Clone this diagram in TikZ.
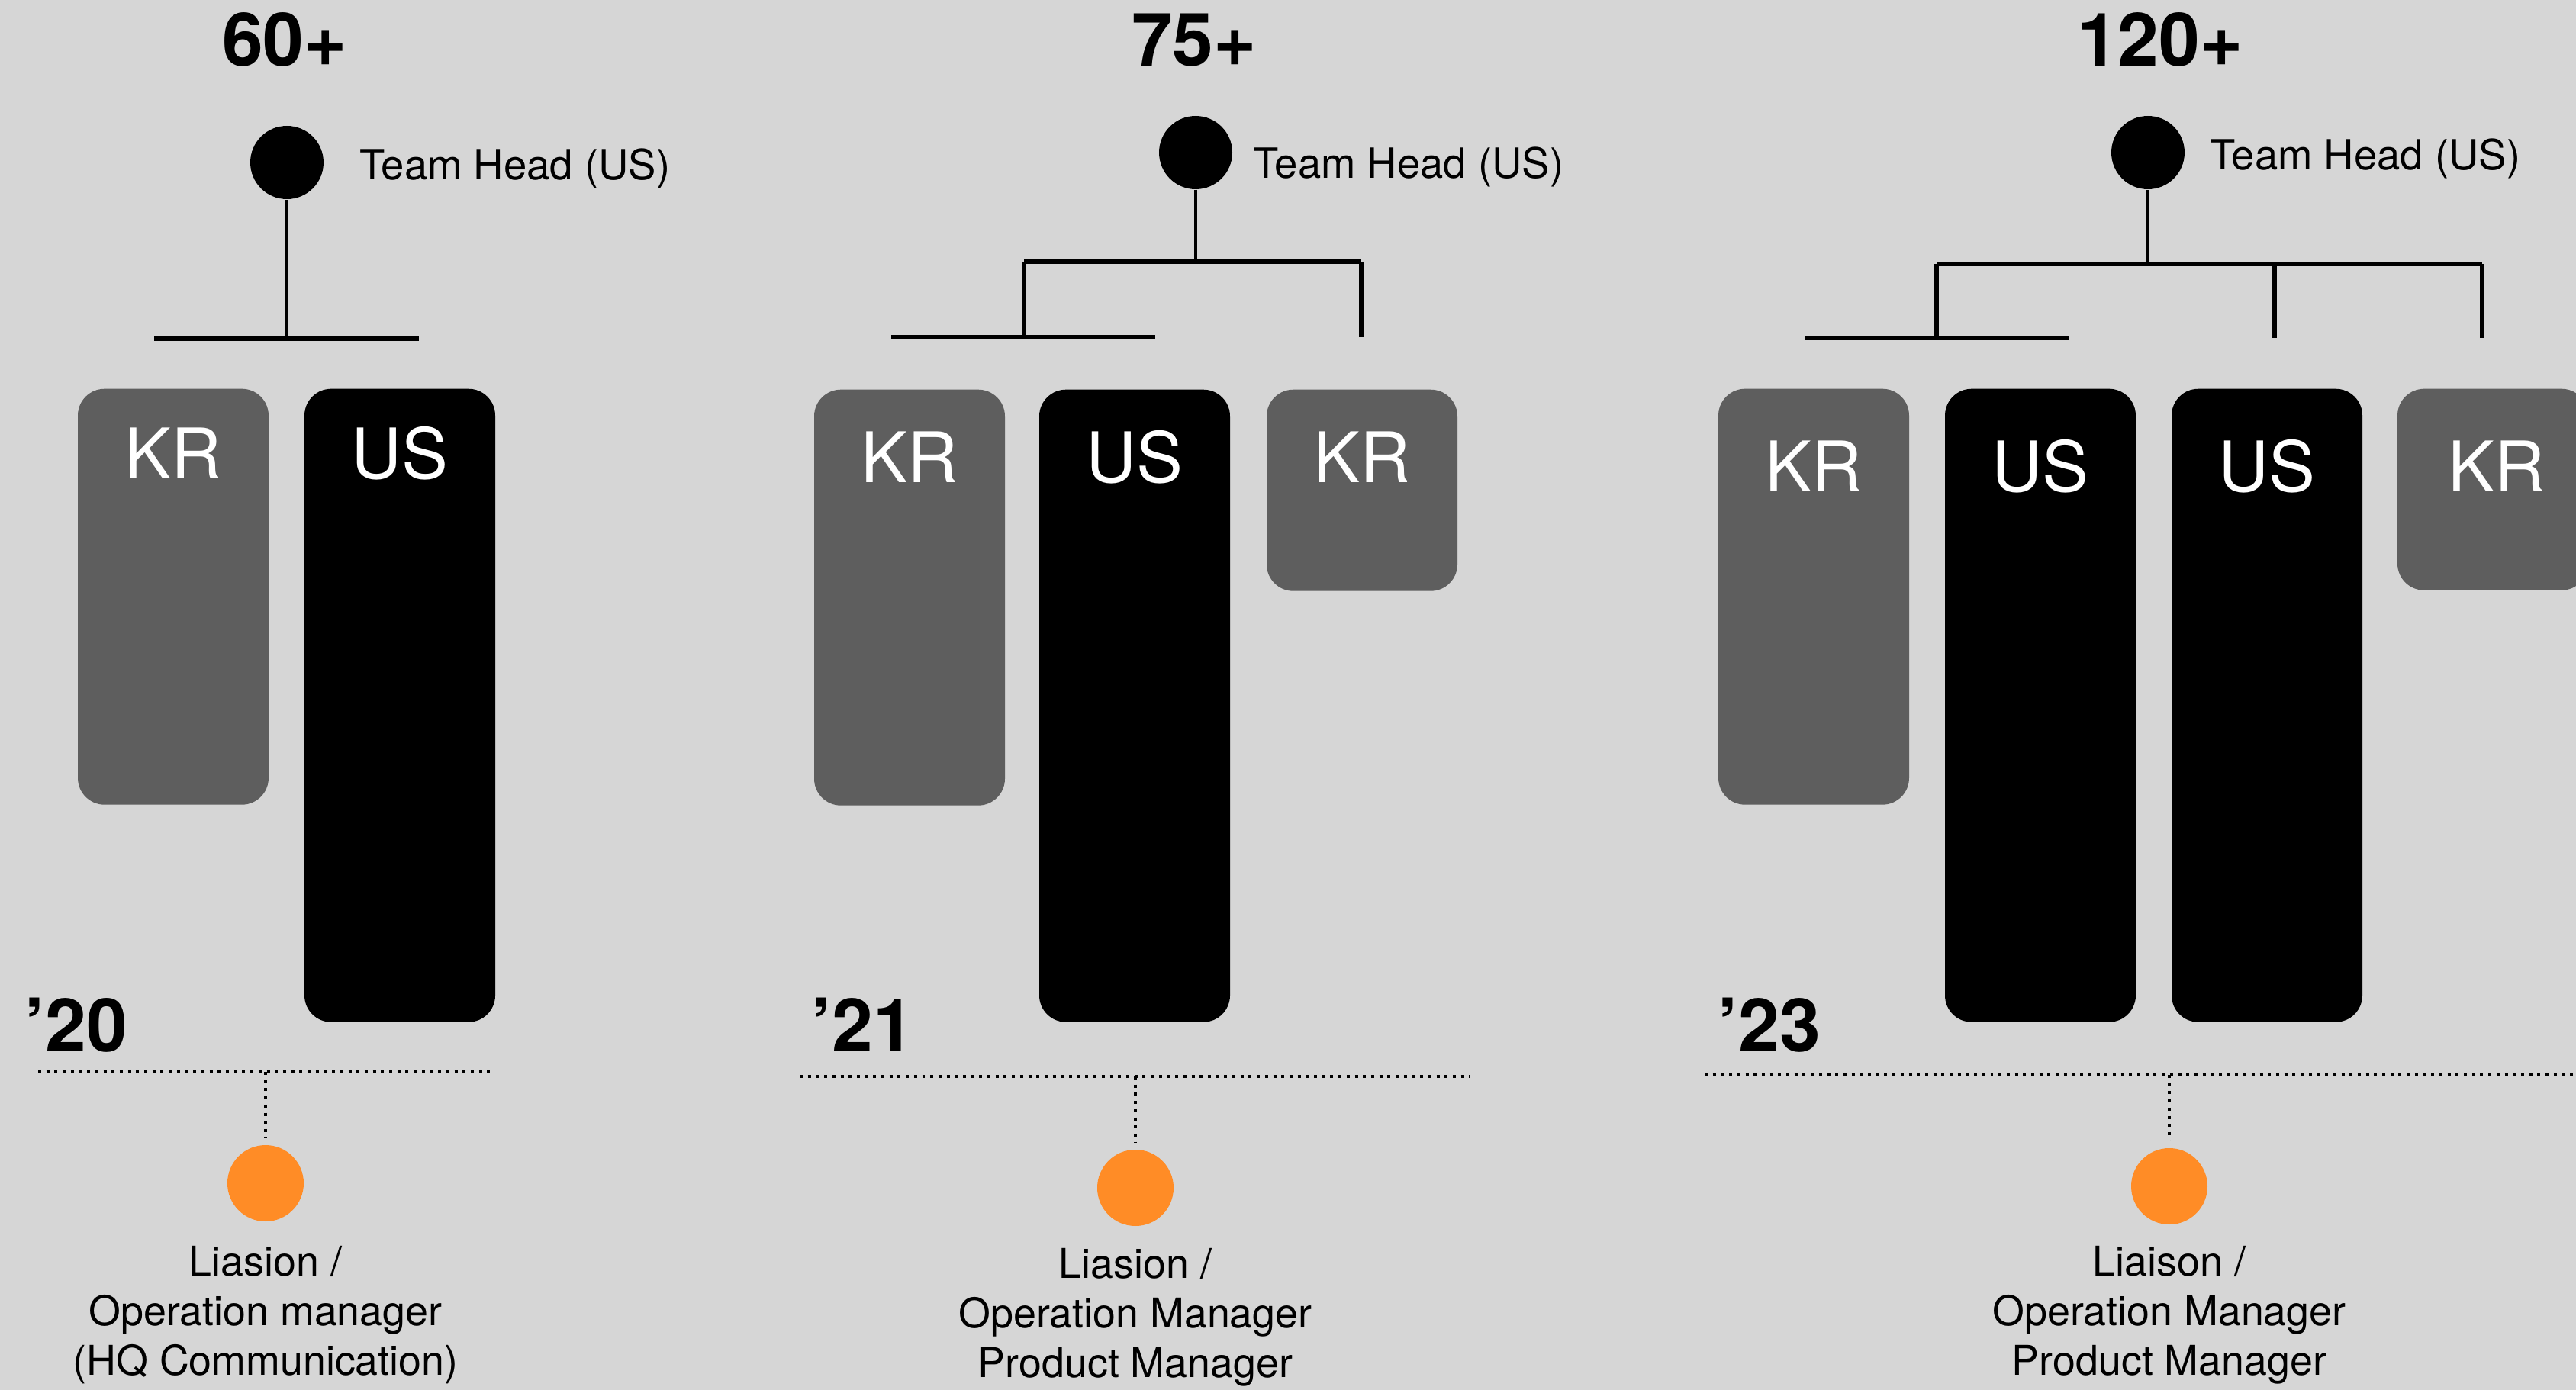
\documentclass[tikz,border=0pt]{standalone}
\usepackage{fontspec}
\setmainfont{TeX Gyre Heros}
\definecolor{bggray}{RGB}{214,214,214}
\definecolor{krgray}{RGB}{94,94,94}
\definecolor{liaisonorange}{RGB}{255,140,38}

\begin{document}
\begin{tikzpicture}
    \tikzstyle{count}=[inner sep=0pt,anchor=base,font=\fontsize{27.5}{30}\selectfont\bfseries]
    \tikzstyle{year}=[inner sep=0pt,anchor=base west,font=\fontsize{27.5}{30}\selectfont\bfseries]
    \tikzstyle{head}=[circle,fill=black,inner sep=0pt,minimum size=0.96cm]
    \tikzstyle{headtext}=[inner sep=0pt,anchor=base west,font=\fontsize{15.5}{19}\selectfont]
    \tikzstyle{stem}=[line width=0.04cm]
    \tikzstyle{bar}=[line width=0.055cm]
    \tikzstyle{team}=[rounded corners=0.35cm,minimum width=2.5cm,anchor=north,inner sep=0pt]
    \tikzstyle{kr}=[team,fill=krgray]
    \tikzstyle{us}=[team,fill=black]
    \tikzstyle{teamtext}=[inner sep=0pt,anchor=base,text=white,font=\fontsize{26}{28}\selectfont]
    \tikzstyle{timeline}=[line width=0.04cm,dash pattern=on 0.04cm off 0.067cm]
    \tikzstyle{liaison}=[circle,fill=liaisonorange,inner sep=0pt,minimum size=1cm]
    \tikzstyle{roletext}=[inner sep=0pt,anchor=north,align=center,font=\fontsize{15.3}{18.5}\selectfont]
    % page
    \fill[bggray] (0,0) rectangle (33.76,-18.22);
    \useasboundingbox (0,0) rectangle (33.76,-18.22);

    % ---------- 2020 ----------
    \node[count] (n20) at (3.73,-0.87) {60+};
    \node[head] (head20) at (3.76,-2.13) {};
    \node[headtext] (head20t) at (4.71,-2.36) {Team Head (US)};
    \coordinate (fork20) at (3.76,-4.44);
    \coordinate (bar20l) at (2.02,-4.44);
    \coordinate (bar20r) at (5.49,-4.44);
    \draw[stem] (head20) -- (fork20);
    \draw[bar] (bar20l) -- (bar20r);
    % teams
    \node[kr,minimum height=5.45cm] (kr20) at (2.27,-5.09) {};
    \node[us,minimum height=8.30cm] (us20) at (5.24,-5.09) {};
    \node[teamtext] (kr20t) at (2.27,-6.27) {KR};
    \node[teamtext] (us20t) at (5.24,-6.27) {US};
    % timeline and liaison
    \node[year] (y20) at (0.32,-13.78) {’20};
    \coordinate (tl20a) at (0.50,-14.05);
    \coordinate (tl20b) at (6.43,-14.05);
    \coordinate (tap20) at (3.48,-14.05);
    \draw[timeline] (tl20a) -- (tl20b);
    \node[liaison] (lia20) at (3.48,-15.51) {};
    \draw[timeline,shorten >=0.08cm] (tap20) -- (lia20);
    \node[roletext] (role20) at (3.48,-16.33) {Liasion /\\Operation manager\\(HQ Communication)};

    % ---------- 2021 ----------
    \node[count] (n21) at (15.65,-0.87) {75+};
    \node[head] (head21) at (15.67,-2.00) {};
    \node[headtext] (head21t) at (16.42,-2.34) {Team Head (US)};
    \coordinate (fork21) at (15.67,-3.43);
    \coordinate (bar21l) at (13.42,-3.43);
    \coordinate (bar21r) at (17.84,-3.43);
    \coordinate (drop21l) at (13.42,-4.42);
    \coordinate (drop21r) at (17.84,-4.42);
    \coordinate (low21l) at (11.68,-4.42);
    \coordinate (low21r) at (15.14,-4.42);
    \draw[stem] (head21) -- (fork21);
    \draw[bar] (bar21l) -- (bar21r);
    \draw[bar] (bar21l) -- (drop21l);
    \draw[bar] (bar21r) -- (drop21r);
    \draw[bar] (low21l) -- (low21r);
    % teams
    \node[kr,minimum height=5.45cm] (kr21) at (11.92,-5.10) {};
    \node[us,minimum height=8.29cm] (us21) at (14.87,-5.10) {};
    \node[kr,minimum height=2.64cm] (kr21b) at (17.85,-5.10) {};
    \node[teamtext] (kr21t) at (11.92,-6.33) {KR};
    \node[teamtext] (us21t) at (14.87,-6.33) {US};
    \node[teamtext] (kr21bt) at (17.85,-6.33) {KR};
    % timeline and liaison
    \node[year] (y21) at (10.63,-13.78) {’21};
    \coordinate (tl21a) at (10.48,-14.11);
    \coordinate (tl21b) at (19.27,-14.11);
    \coordinate (tap21) at (14.88,-14.11);
    \draw[timeline] (tl21a) -- (tl21b);
    \node[liaison] (lia21) at (14.88,-15.57) {};
    \draw[timeline,shorten >=0.08cm] (tap21) -- (lia21);
    \node[roletext] (role21) at (14.88,-16.36) {Liasion /\\Operation Manager\\Product Manager};

    % ---------- 2023 ----------
    \node[count] (n23) at (28.31,-0.87) {120+};
    \node[head] (head23) at (28.15,-2.00) {};
    \node[headtext] (head23t) at (28.96,-2.23) {Team Head (US)};
    \coordinate (fork23) at (28.15,-3.46);
    \coordinate (bar23l) at (25.38,-3.46);
    \coordinate (bar23m) at (29.81,-3.46);
    \coordinate (bar23r) at (32.53,-3.46);
    \coordinate (drop23l) at (25.38,-4.43);
    \coordinate (drop23m) at (29.81,-4.43);
    \coordinate (drop23r) at (32.53,-4.43);
    \coordinate (low23l) at (23.65,-4.43);
    \coordinate (low23r) at (27.12,-4.43);
    \draw[stem] (head23) -- (fork23);
    \draw[bar] (bar23l) -- (bar23r);
    \draw[bar] (bar23l) -- (drop23l);
    \draw[bar] (bar23m) -- (drop23m);
    \draw[bar] (bar23r) -- (drop23r);
    \draw[bar] (low23l) -- (low23r);
    % teams
    \node[kr,minimum height=5.45cm] (kr23) at (23.77,-5.09) {};
    \node[us,minimum height=8.30cm] (us23) at (26.74,-5.09) {};
    \node[us,minimum height=8.30cm] (us23b) at (29.71,-5.09) {};
    \node[kr,minimum height=2.64cm] (kr23b) at (32.67,-5.09) {};
    \node[teamtext] (kr23t) at (23.77,-6.45) {KR};
    \node[teamtext] (us23t) at (26.74,-6.45) {US};
    \node[teamtext] (us23bt) at (29.71,-6.45) {US};
    \node[teamtext] (kr23bt) at (32.72,-6.45) {KR};
    % timeline and liaison
    \node[year] (y23) at (22.51,-13.78) {’23};
    \coordinate (tl23a) at (22.34,-14.09);
    \coordinate (tl23b) at (33.76,-14.09);
    \coordinate (tap23) at (28.43,-14.09);
    \draw[timeline] (tl23a) -- (tl23b);
    \node[liaison] (lia23) at (28.43,-15.55) {};
    \draw[timeline,shorten >=0.08cm] (tap23) -- (lia23);
    \node[roletext] (role23) at (28.43,-16.33) {Liaison /\\Operation Manager\\Product Manager};
\end{tikzpicture}
\end{document}
